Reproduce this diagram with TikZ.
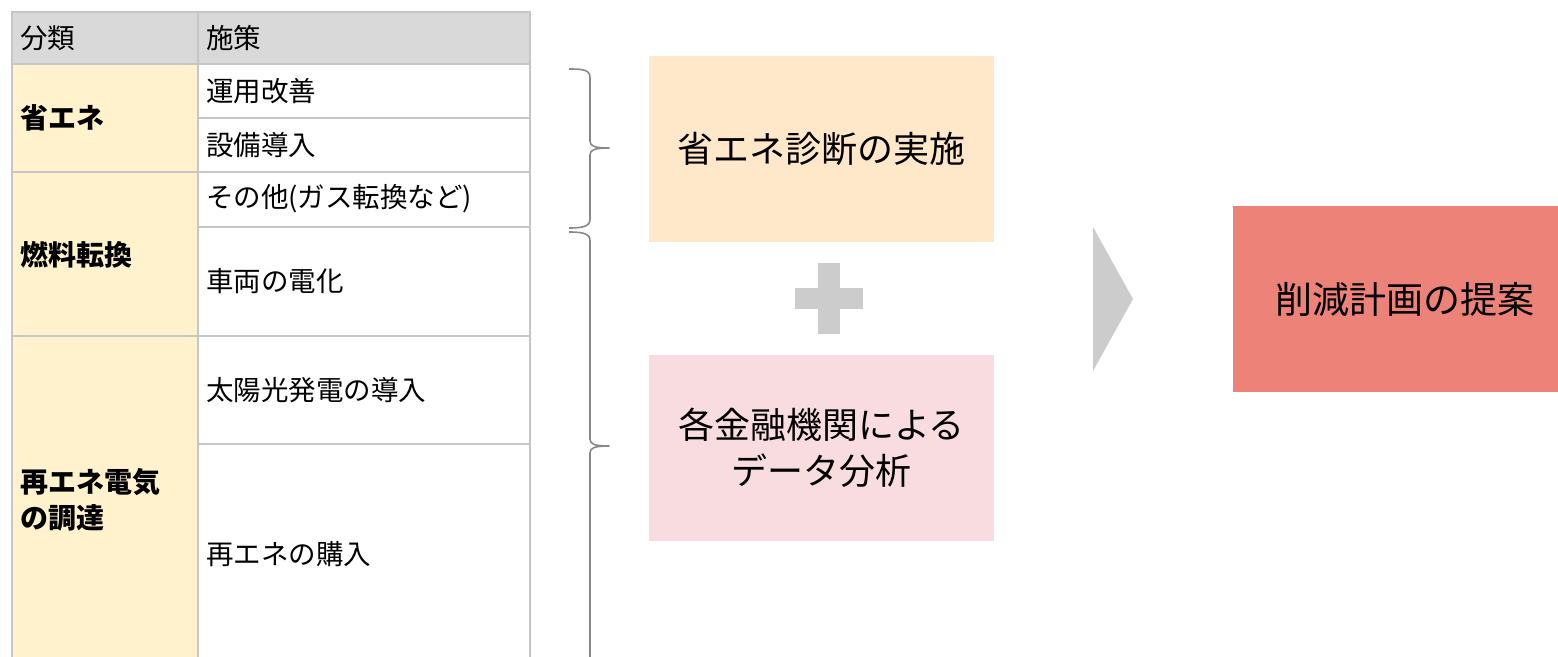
\documentclass[tikz,border=0pt]{standalone}
\usepackage{fontspec}
\setmainfont{Noto Sans CJK JP}
\definecolor{hdr}{HTML}{D9D9D9}
\definecolor{cat}{HTML}{FFF2CC}
\definecolor{grid}{HTML}{C6C6C6}
\definecolor{orangebox}{HTML}{FFE7CA}
\definecolor{pinkbox}{HTML}{F8DCE0}
\definecolor{redbox}{HTML}{EC8278}
\definecolor{bracec}{HTML}{888888}
\definecolor{shapec}{HTML}{CCCCCC}
\begin{document}
\begin{tikzpicture}[x=1pt,y=-1pt,
  cell/.style={draw=grid, line width=1.5pt, anchor=north west, inner sep=0pt, outer sep=0pt},
  hcell/.style={cell, fill=hdr, minimum height=52pt},
  ccell/.style={cell, fill=cat, minimum width=186pt},
  rcell/.style={cell, fill=white, minimum width=332pt},
  ttxt/.style={anchor=west, inner sep=0pt, font=\fontsize{27.5}{32}\selectfont},
  btxt/.style={anchor=west, inner sep=0pt, align=left, font=\fontsize{28}{36}\selectfont\bfseries},
  bigbox/.style={inner sep=0pt, minimum width=345pt, minimum height=186pt, align=center, font=\fontsize{36}{46}\selectfont},
  bracepath/.style={draw=bracec, line width=1.6pt, line join=round}
]
\useasboundingbox (0,0) rectangle (1558,656);
\clip (0,0) rectangle (1558,656);
% table header
\node[hcell, minimum width=186pt] (h1) at (12,12) {};
\node[hcell, minimum width=332pt] (h2) at (198,12) {};
% category cells
\node[ccell, minimum height=108pt] (c1) at (12,64) {};
\node[ccell, minimum height=164pt] (c2) at (12,172) {};
\node[ccell, minimum height=328pt] (c3) at (12,336) {};
% measure cells
\node[rcell, minimum height=54pt] (r1) at (198,64) {};
\node[rcell, minimum height=54pt] (r2) at (198,118) {};
\node[rcell, minimum height=55pt] (r3) at (198,172) {};
\node[rcell, minimum height=109pt] (r4) at (198,227) {};
\node[rcell, minimum height=108pt] (r5) at (198,336) {};
\node[rcell, minimum height=220pt] (r6) at (198,444) {};
% texts
\node[ttxt] (th1) at (20,38) {分類};
\node[ttxt] (th2) at (206,38) {施策};
\node[btxt] (tc1) at (20,118) {省エネ};
\node[btxt] (tc2) at (20,255) {燃料転換};
\node[btxt] (tc3) at (20,500) {再エネ電気\\の調達};
\node[ttxt] (tr1) at (206,91) {運用改善};
\node[ttxt] (tr2) at (206,145) {設備導入};
\node[ttxt] (tr3) at (206,199) {その他(ガス転換など)};
\node[ttxt] (tr4) at (206,281) {車両の電化};
\node[ttxt] (tr5) at (206,390) {太陽光発電の導入};
\node[ttxt] (tr6) at (206,554) {再エネの購入};
% braces
\coordinate (br1t) at (569,69);
\coordinate (br1m) at (609,148);
\coordinate (br1b) at (569,228);
\coordinate (br2t) at (569,232);
\coordinate (br2m) at (609,446);
\coordinate (br2b) at (569,664);
\draw[bracepath] (br1t) .. controls (584,69) and (590,70) .. (590,78) -- (590,141)
  .. controls (590,146) and (594,148) .. (br1m)
  .. controls (594,148) and (590,150) .. (590,155) -- (590,219)
  .. controls (590,226) and (584,228) .. (br1b);
\draw[bracepath] (br2t) .. controls (584,232) and (590,234) .. (590,241) -- (590,439)
  .. controls (590,444) and (594,446) .. (br2m)
  .. controls (594,446) and (590,448) .. (590,453) -- (590,680);
% boxes
\node[bigbox, fill=orangebox] (b1) at (821.5,149) {省エネ診断の実施};
\node[bigbox, fill=pinkbox] (b2) at (821.5,448) {各金融機関による\\データ分析};
\node[bigbox, fill=redbox, minimum width=344pt, font=\fontsize{37}{46}\selectfont] (b3) at (1405,299) {削減計画の提案};
% plus
\fill[shapec] (795,288) rectangle (863,309);
\fill[shapec] (818,263) rectangle (840,334);
% chevron arrow
\coordinate (ct) at (1093,227);
\coordinate (cp) at (1133,299);
\coordinate (cb) at (1093,371);
\fill[shapec] (ct) -- (cp) -- (cb) -- cycle;
\end{tikzpicture}
\end{document}
